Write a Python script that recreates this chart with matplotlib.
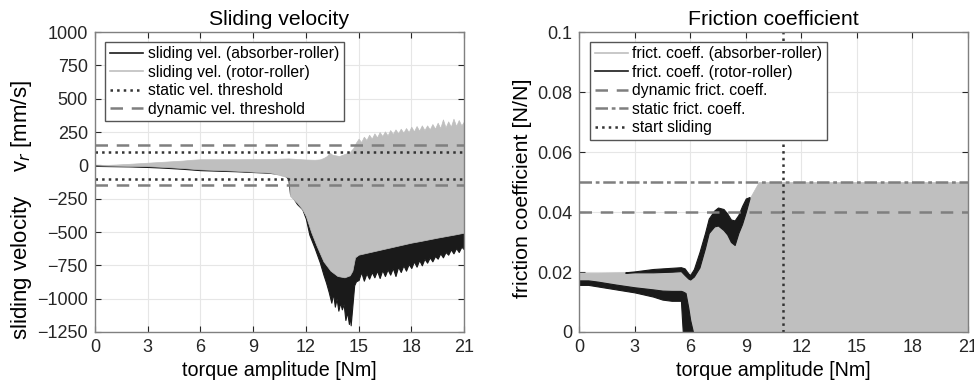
import numpy as np
import matplotlib
matplotlib.use('Agg')
import matplotlib.pyplot as plt

plt.rcParams['font.family'] = ['Liberation Sans', 'DejaVu Sans']

# ---- left panel: sliding velocity [mm/s] vs torque amplitude [Nm] ----
# rotor-roller (gray) envelope: upper edge
x_rot_up = [0, 1, 2, 3, 4, 5, 5.5, 6, 8, 10, 11, 12, 12.5, 12.8, 13.0, 13.2, 13.35, 13.5, 13.7,
            13.9, 14.1, 14.3, 14.5, 14.7, 14.85, 15.0, 15.15, 15.3, 15.45, 15.6, 15.75, 15.9,
            16.05, 16.2, 16.35, 16.5, 16.65, 16.8, 16.95, 17.1, 17.25, 17.4, 17.55, 17.7,
            17.85, 18.0, 18.15, 18.3, 18.45, 18.6, 18.75, 18.9, 19.05, 19.2, 19.35, 19.5,
            19.65, 19.8, 19.95, 20.1, 20.25, 20.4, 20.55, 20.7, 20.85, 21.0]
rot_up = [0, 5, 12, 20, 28, 36, 42, 46, 46, 48, 52, 44, 42, 45, 55, 70, 95, 80, 75,
          70, 80, 90, 100, 130, 170, 200, 175, 215, 190, 230, 200, 240,
          210, 250, 220, 255, 225, 265, 235, 270, 240, 275, 245, 280,
          250, 290, 255, 295, 260, 300, 265, 300, 270, 310, 275, 320,
          280, 345, 285, 330, 290, 350, 295, 340, 300, 330]
# rotor-roller (gray) envelope: lower edge
x_rot_low = [0, 1, 2, 3, 4, 5, 5.5, 6, 8, 10, 11, 11.05, 11.1, 11.5, 11.8, 12, 12.3, 12.6,
             13, 13.4, 13.8, 14.2, 14.5, 14.65, 14.8, 15, 15.5, 16, 16.5, 17, 17.5, 18,
             18.5, 19, 19.5, 20, 20.5, 21]
rot_low = [0, -2, -4, -6, -12, -20, -25, -30, -40, -55, -90, -110, -230, -280, -330, -380, -500, -600,
           -720, -790, -830, -840, -825, -790, -690, -670, -655, -640, -625, -610, -595, -580,
           -568, -555, -542, -530, -518, -505]

# absorber-roller (black) envelope
x_abs = [0, 1, 2, 3, 4, 5, 6, 7, 8, 9, 9.5, 10, 10.5, 10.8, 11.0, 11.1, 11.3, 11.5,
         11.8, 12.0, 12.2, 12.5, 12.8, 13.0, 13.15, 13.3, 13.45, 13.55, 13.65, 13.75,
         13.85, 13.95, 14.05, 14.15, 14.25, 14.35, 14.45, 14.5, 14.55, 14.65, 14.75, 14.85,
         15.0, 15.15, 15.3, 15.45, 15.6, 15.75, 15.9, 16.05, 16.2, 16.35, 16.5, 16.65, 16.8,
         16.95, 17.1, 17.25, 17.4, 17.55, 17.7, 17.85, 18.0, 18.15, 18.3, 18.45, 18.6, 18.75,
         18.9, 19.05, 19.2, 19.35, 19.5, 19.65, 19.8, 19.95, 20.1, 20.25, 20.4, 20.55, 20.7,
         20.85, 21.0]
abs_low = [-4, -6, -8, -12, -18, -26, -36, -40, -44, -50, -53, -57, -65, -75, -100, -215, -250, -290,
           -330, -400, -520, -620, -730, -820, -880, -950, -1030, -960, -1060, -1000,
           -1090, -1030, -1080, -1040, -1160, -1100, -1190, -1120, -1200, -1050, -900, -870,
           -860, -800, -865, -810, -850, -800, -840, -790, -845, -785, -830, -780, -820,
           -770, -830, -760, -800, -750, -790, -740, -770, -720, -760, -710, -750, -700,
           -730, -690, -720, -680, -700, -660, -690, -650, -670, -630, -660, -620, -650,
           -610, -630]
abs_up = [2, 0, -2, -4, -10, -18, -28, -32, -36, -42, -45, -49, -57, -67, -90] + [-100] * 68

v_static = 100
v_dynamic = 150

# ---- right panel: friction coefficient [N/N] ----
# absorber-roller (gray) envelope
x_fa = [0, 1, 2, 3, 4, 5, 5.5, 5.7, 6.0, 6.2, 6.5, 7, 7.5, 8, 8.3, 8.6, 9, 9.2, 9.7, 21]
fa_up = [0.0198, 0.0198, 0.0199, 0.0200, 0.0201, 0.0204, 0.0205, 0.0195, 0.018, 0.0188,
         0.022, 0.0335, 0.036, 0.033, 0.0295, 0.0335, 0.0405, 0.0445, 0.05, 0.05]
fa_low = [0.0165, 0.016, 0.015, 0.014, 0.013, 0.012, 0.012, 0.006, 0, 0,
          0, 0, 0, 0, 0, 0, 0, 0, 0, 0]

# rotor-roller (black), lower branch
x_rl = [0, 0.5, 1, 2, 3, 4, 4.5, 5, 5.5, 5.55, 5.6, 5.75, 5.9, 6.0, 6.15]
rl_up = [0.0172, 0.0172, 0.0168, 0.0158, 0.0149, 0.0142, 0.0138, 0.0137, 0.0137, 0.0136,
         0.0135, 0.013, 0.008, 0.004, 0.0]
rl_low = [0.0157, 0.0157, 0.0152, 0.0142, 0.0132, 0.0118, 0.0108, 0.0104, 0.0104, 0.005,
          0.0, 0.0, 0.0, 0.0, 0.0]
# rotor-roller (black), upper branch
x_ru = [2.5, 3, 4, 5, 5.5, 5.7, 5.9, 6.0, 6.2, 6.5, 6.8, 7.0, 7.3, 7.5, 7.8, 8.0, 8.2,
        8.4, 8.6, 8.8, 9.0, 9.2]
ru_up = [0.0199, 0.0202, 0.021, 0.0214, 0.0216, 0.0212, 0.0195, 0.019, 0.021, 0.0266,
         0.033, 0.0378, 0.0405, 0.0415, 0.041, 0.0395, 0.0375, 0.0372, 0.039, 0.042,
         0.0445, 0.045]
ru_low = [0.0197, 0.0199, 0.0199, 0.0201, 0.0203, 0.019, 0.0178, 0.0175, 0.0185, 0.0215,
          0.028, 0.033, 0.0352, 0.0355, 0.034, 0.0325, 0.030, 0.029, 0.033, 0.036,
          0.040, 0.0445]

mu_static = 0.05
mu_dynamic = 0.04
t_start_sliding = 11

gray = '#bfbfbf'
black = '#1a1a1a'
thr_gray = '#7f7f7f'
dot_col = '#333333'

fig = plt.figure(figsize=(9.74, 3.85), dpi=100)
ax1 = fig.add_axes([0.0975, 0.1377, 0.3789, 0.779])
ax2 = fig.add_axes([0.5945, 0.1377, 0.3994, 0.779])

leg_kw = dict(loc='upper left', bbox_to_anchor=(0.028, 0.968), fontsize=11.3,
              handlelength=2.1, handletextpad=0.3, borderpad=0.3, labelspacing=0.22,
              fancybox=False, framealpha=1, edgecolor='#555555', borderaxespad=0)

# left
ax1.fill_between(x_abs, abs_low, abs_up, color=black, lw=0.8, zorder=2)
xr = sorted(set(x_rot_up) | set(x_rot_low))
ax1.fill_between(xr, np.interp(xr, x_rot_low, rot_low), np.interp(xr, x_rot_up, rot_up),
                 color=gray, lw=0.5, zorder=3)
h1, = ax1.plot([], [], color=black, lw=1.2, label='sliding vel. (absorber-roller)')
h2, = ax1.plot([], [], color=gray, lw=1.2, label='sliding vel. (rotor-roller)')
h3 = ax1.axhline(v_static, color=dot_col, ls=':', lw=1.8, zorder=4, label='static vel. threshold')
ax1.axhline(-v_static, color=dot_col, ls=':', lw=1.8, zorder=4)
h4 = ax1.axhline(v_dynamic, color=thr_gray, ls=(0, (5, 3.5)), lw=1.8, zorder=4, label='dynamic vel. threshold')
ax1.axhline(-v_dynamic, color=thr_gray, ls=(0, (5, 3.5)), lw=1.8, zorder=4)
ax1.set_xlim(0, 21)
ax1.set_ylim(-1250, 1000)
ax1.set_xticks(range(0, 22, 3))
ax1.set_yticks(range(-1250, 1001, 250))
ax1.set_title('Sliding velocity', fontsize=15.3, pad=5)
ax1.set_xlabel('torque amplitude [Nm]', fontsize=14.2, labelpad=4)
ax1.set_ylabel('sliding velocity    v$_r$ [mm/s]', fontsize=16)
ax1.yaxis.set_label_coords(-0.165, 0.407)
ax1.legend(handles=[h1, h2, h3, h4], **leg_kw)

# right
ax2.fill_between(x_fa, fa_low, fa_up, color=gray, lw=0.5, zorder=2)
ax2.fill_between(x_rl, rl_low, rl_up, color=black, lw=0.8, zorder=3)
ax2.fill_between(x_ru, ru_low, ru_up, color=black, lw=0.8, zorder=3)
g1, = ax2.plot([], [], color=gray, lw=1.2, label='frict. coeff. (absorber-roller)')
g2, = ax2.plot([], [], color=black, lw=1.2, label='frict. coeff. (rotor-roller)')
g3 = ax2.axhline(mu_dynamic, color=thr_gray, ls=(0, (5, 3.5)), lw=1.8, zorder=4, label='dynamic frict. coeff.')
g4 = ax2.axhline(mu_static, color=thr_gray, ls=(0, (5, 1.5, 1.5, 1.5)), lw=1.8, zorder=4, label='static frict. coeff.')
g5 = ax2.axvline(t_start_sliding, color=dot_col, ls=':', lw=1.8, zorder=4, label='start sliding')
ax2.set_xlim(0, 21)
ax2.set_ylim(0, 0.1)
ax2.set_xticks(range(0, 22, 3))
ax2.set_yticks([0, 0.02, 0.04, 0.06, 0.08, 0.1])
ax2.set_yticklabels(['0', '0.02', '0.04', '0.06', '0.08', '0.1'])
ax2.set_title('Friction coefficient', fontsize=15.3, pad=5)
ax2.set_xlabel('torque amplitude [Nm]', fontsize=14.2, labelpad=4)
ax2.set_ylabel('friction coefficient [N/N]', fontsize=15.4)
ax2.yaxis.set_label_coords(-0.121, 0.478)
ax2.legend(handles=[g1, g2, g3, g4, g5], **leg_kw)

for ax in (ax1, ax2):
    ax.grid(True, color='#e6e6e6', lw=0.8)
    ax.set_axisbelow(True)
    ax.tick_params(direction='in', top=True, right=True, length=4, width=0.8,
                   labelsize=13, colors='#262626', pad=5)
    for sp in ax.spines.values():
        sp.set_color('#808080')
        sp.set_linewidth(1.0)
        sp.set_zorder(5)

fig.savefig('out.png', dpi=100)
